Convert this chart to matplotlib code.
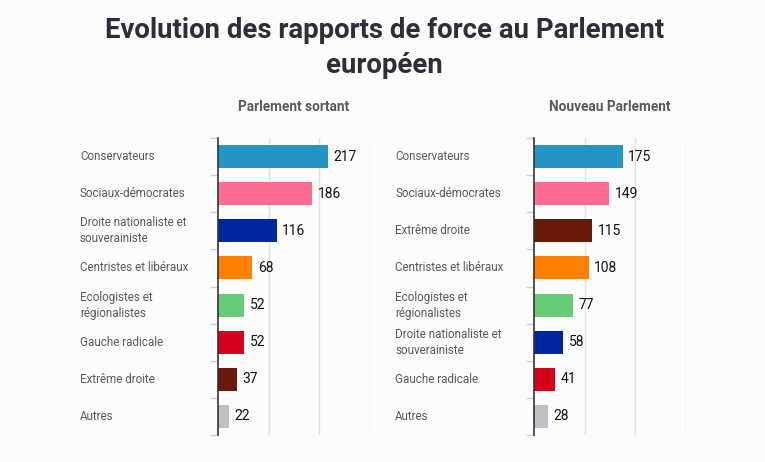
import matplotlib
matplotlib.use('Agg')
import matplotlib.pyplot as plt
import matplotlib.transforms as mtransforms

plt.rcParams['font.family'] = ['Roboto', 'DejaVu Sans']

# data
left_labels = ['Conservateurs', 'Sociaux-démocrates', 'Droite nationaliste et\nsouverainiste',
               'Centristes et libéraux', 'Ecologistes et\nrégionalistes', 'Gauche radicale',
               'Extrême droite', 'Autres']
left_values = [217, 186, 116, 68, 52, 52, 37, 22]
left_colors = ['#2596c3', '#ff6c8f', '#00289c', '#ff7f00', '#66cc77', '#d6001c', '#6b1a0a', '#bdc0c6']

right_labels = ['Conservateurs', 'Sociaux-démocrates', 'Extrême droite',
                'Centristes et libéraux', 'Ecologistes et\nrégionalistes',
                'Droite nationaliste et\nsouverainiste', 'Gauche radicale', 'Autres']
right_values = [175, 149, 115, 108, 77, 58, 41, 28]
right_colors = ['#2596c3', '#ff6c8f', '#6b1a0a', '#ff7f00', '#66cc77', '#00289c', '#d6001c', '#bdc0c6']

bg = '#fcfcfc'
fig = plt.figure(figsize=(7.65, 4.62), dpi=100, facecolor=bg)

fig.text(0.503, 1 - 17 / 462, 'Evolution des rapports de force au Parlement\neuropéen',
         ha='center', va='top', fontsize=19.8, fontweight='bold', color='#2a2f3a',
         linespacing=1.4)


def panel(left_px, label_px, title, labels, values, colors):
    ax = fig.add_axes([left_px / 765, 1 - 435 / 462, 152 / 765, 297 / 462])
    ax.set_facecolor(bg)
    y = list(range(len(values)))
    ax.barh(y, values, height=0.62, color=colors, zorder=3)
    ax.set_xlim(0, 300)
    ax.set_ylim(len(values) - 0.5, -0.5)
    ax.set_xticks([100, 200, 300])
    ax.xaxis.grid(True, color='#e2e2e6', linewidth=1)
    ax.tick_params(axis='x', length=0, labelbottom=False)
    ax.set_yticks([])
    ax.set_yticks([i - 0.5 for i in range(len(values) + 1)], minor=True)
    ax.tick_params(axis='y', which='minor', length=6, color='#c8d3e8', width=1)
    for s in ['top', 'right', 'bottom']:
        ax.spines[s].set_visible(False)
    ax.spines['left'].set_color('#333333')
    ax.spines['left'].set_linewidth(1.2)
    ax.spines['left'].set_zorder(4)
    for i, v in enumerate(values):
        ax.text(v + 11, i, str(v), va='center', ha='left', fontsize=10, color='#111111')
    tr = mtransforms.blended_transform_factory(fig.transFigure, ax.transData)
    for i, lab in enumerate(labels):
        fig.text(label_px / 765, i, lab, transform=tr, va='center', ha='left',
                 fontsize=8.4, color='#5a5a5a', linespacing=1.3)
    fig.text((left_px + 76) / 765, 1 - 107 / 462, title, ha='center', va='center',
             fontsize=9.8, fontweight='bold', color='#5a5a5a')
    return ax


panel(218, 80, 'Parlement sortant', left_labels, left_values, left_colors)
panel(534, 395, 'Nouveau Parlement', right_labels, right_values, right_colors)

fig.savefig('out.png', dpi=100, facecolor=bg)
